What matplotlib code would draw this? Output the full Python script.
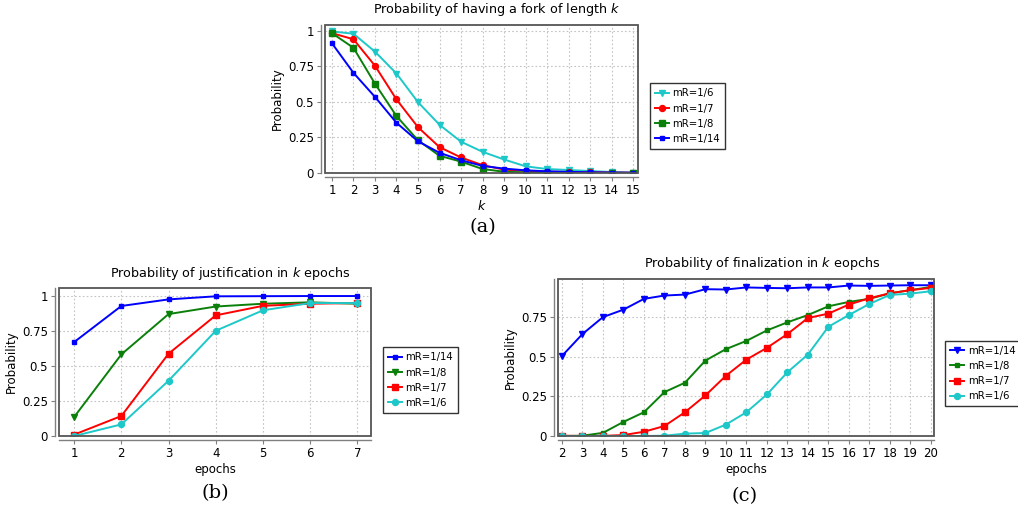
import matplotlib.pyplot as plt
from matplotlib.patches import Rectangle

# (a) fork length
k_a = list(range(1, 16))
fork_6 = [0.995, 0.979, 0.853, 0.699, 0.498, 0.339, 0.220, 0.149, 0.095, 0.047, 0.028, 0.021, 0.014, 0.007, 0.003]
fork_7 = [0.983, 0.940, 0.754, 0.517, 0.322, 0.182, 0.109, 0.055, 0.024, 0.014, 0.009, 0.007, 0.005, 0.003, 0.002]
fork_8 = [0.983, 0.880, 0.628, 0.400, 0.230, 0.121, 0.080, 0.028, 0.009, 0.004, 0.002, 0.001, 0.0, 0.0, 0.0]
fork_14 = [0.912, 0.704, 0.535, 0.353, 0.223, 0.142, 0.090, 0.050, 0.031, 0.019, 0.012, 0.008, 0.005, 0.003, 0.002]

# (b) justification
ep_b = list(range(1, 8))
just_14 = [0.671, 0.929, 0.976, 0.998, 0.999, 1.0, 1.0]
just_8 = [0.136, 0.583, 0.871, 0.925, 0.945, 0.955, 0.945]
just_7 = [0.010, 0.143, 0.588, 0.862, 0.930, 0.945, 0.950]
just_6 = [0.0, 0.083, 0.395, 0.752, 0.898, 0.950, 0.950]

# (c) finalization
ep_c = list(range(2, 21))
fin_14 = [0.505, 0.643, 0.750, 0.797, 0.865, 0.886, 0.892, 0.926, 0.924, 0.937, 0.934, 0.932, 0.937, 0.937, 0.949, 0.947, 0.949, 0.951, 0.951]
fin_8 = [0.0, 0.002, 0.020, 0.089, 0.150, 0.277, 0.336, 0.476, 0.548, 0.600, 0.666, 0.717, 0.763, 0.818, 0.846, 0.865, 0.900, 0.920, 0.940]
fin_7 = [0.002, 0.0, 0.001, 0.006, 0.027, 0.063, 0.150, 0.256, 0.380, 0.482, 0.556, 0.643, 0.744, 0.772, 0.829, 0.869, 0.900, 0.920, 0.934]
fin_6 = [0.0, 0.0, 0.0, 0.0, 0.0, 0.002, 0.015, 0.019, 0.072, 0.150, 0.262, 0.402, 0.514, 0.689, 0.763, 0.833, 0.890, 0.898, 0.913]

BLUE = '#0000ff'
RED = '#ff0000'
GREEN = '#0a800a'
CYAN = '#1ec8c8'

plt.rcParams['font.family'] = 'DejaVu Sans'

fig = plt.figure(figsize=(10.18, 5.12), dpi=100)


def style(ax, xticks, yticks, ylabels):
    ax.set_xticks(xticks)
    ax.set_yticks(yticks)
    ax.set_yticklabels(ylabels)
    ax.grid(True, color='#c4c4c4', linestyle=(0, (1.5, 2)), linewidth=0.8)
    ax.set_axisbelow(True)
    for s in ['top', 'right']:
        ax.spines[s].set_visible(False)
    for s in ['bottom', 'left']:
        ax.spines[s].set_position(('outward', 3))
        ax.spines[s].set_color('#808080')
        ax.spines[s].set_linewidth(1.0)
    ax.add_patch(Rectangle((0, 0), 1, 1, transform=ax.transAxes, fill=False,
                           ec='#555555', lw=1.3, zorder=5, clip_on=False))
    ax.tick_params(labelsize=8.5, length=3, color='#808080', pad=2)


def legend(ax, x, y):
    leg = ax.legend(loc='center left', bbox_to_anchor=(x, y), fontsize=7.3,
                    frameon=True, fancybox=False, edgecolor='black',
                    handlelength=1.4, handletextpad=0.35, borderpad=0.5,
                    labelspacing=0.5, borderaxespad=0)
    leg.get_frame().set_linewidth(1.0)


lw = 1.4

# panel (a)
ax = fig.add_axes([0.3193, 0.6621, 0.3075, 0.289])
ax.plot(k_a, fork_6, color=CYAN, lw=lw, marker='v', ms=4.3, label='mR=1/6')
ax.plot(k_a, fork_7, color=RED, lw=lw, marker='o', ms=4.3, label='mR=1/7')
ax.plot(k_a, fork_8, color=GREEN, lw=lw, marker='s', ms=4.3, label='mR=1/8')
ax.plot(k_a, fork_14, color=BLUE, lw=lw, marker='s', ms=3.0, label='mR=1/14')
ax.set_xlim(0.68, 15.23)
ax.set_ylim(0, 1.04)
style(ax, k_a, [0, 0.25, 0.5, 0.75, 1], ['0', '0.25', '0.5', '0.75', '1'])
ax.set_xlabel('$k$', fontsize=9, labelpad=1)
ax.set_ylabel('Probability', fontsize=8.5, labelpad=3)
legend(ax, 1.037, 0.385)
fig.text(497 / 1018, 1 - 10 / 512, 'Probability of having a fork of length $k$',
         ha='center', va='center', fontsize=9.2)
fig.text(483 / 1018, 1 - 227 / 512, '(a)', ha='center', va='center',
         fontsize=14, family='DejaVu Serif')

# panel (b)
ax = fig.add_axes([0.058, 0.1484, 0.3065, 0.289])
ax.plot(ep_b, just_14, color=BLUE, lw=lw, marker='s', ms=3.0, label='mR=1/14')
ax.plot(ep_b, just_8, color=GREEN, lw=lw, marker='v', ms=4.3, label='mR=1/8')
ax.plot(ep_b, just_7, color=RED, lw=lw, marker='s', ms=4.3, label='mR=1/7')
ax.plot(ep_b, just_6, color=CYAN, lw=lw, marker='o', ms=4.3, label='mR=1/6')
ax.set_xlim(0.68, 7.29)
ax.set_ylim(0, 1.057)
style(ax, ep_b, [0, 0.25, 0.5, 0.75, 1], ['0', '0.25', '0.5', '0.75', '1'])
ax.set_xlabel('epochs', fontsize=8.5, labelpad=2)
ax.set_ylabel('Probability', fontsize=8.5, labelpad=3)
legend(ax, 1.037, 0.378)
fig.text(230 / 1018, 1 - 274 / 512, 'Probability of justification in $k$ epochs',
         ha='center', va='center', fontsize=9.2)
fig.text(215 / 1018, 1 - 493 / 512, '(b)', ha='center', va='center',
         fontsize=14, family='DejaVu Serif')

# panel (c)
ax = fig.add_axes([0.548, 0.1484, 0.3694, 0.3066])
ax.plot(ep_c, fin_14, color=BLUE, lw=lw, marker='v', ms=4.3, label='mR=1/14')
ax.plot(ep_c, fin_8, color=GREEN, lw=lw, marker='s', ms=3.0, label='mR=1/8')
ax.plot(ep_c, fin_7, color=RED, lw=lw, marker='s', ms=4.3, label='mR=1/7')
ax.plot(ep_c, fin_6, color=CYAN, lw=lw, marker='o', ms=4.3, label='mR=1/6')
ax.set_xlim(1.8, 20.15)
ax.set_ylim(0, 0.99)
style(ax, ep_c, [0, 0.25, 0.5, 0.75], ['0', '0.25', '0.5', '0.75'])
ax.set_xlabel('epochs', fontsize=8.5, labelpad=2)
ax.set_ylabel('Probability', fontsize=8.5, labelpad=3)
legend(ax, 1.03, 0.398)
fig.text(762 / 1018, 1 - 263 / 512, 'Probability of finalization in $k$ eopchs',
         ha='center', va='center', fontsize=9.2)
fig.text(745 / 1018, 1 - 496 / 512, '(c)', ha='center', va='center',
         fontsize=14, family='DejaVu Serif')

fig.savefig('out.png', dpi=100, facecolor='white')
